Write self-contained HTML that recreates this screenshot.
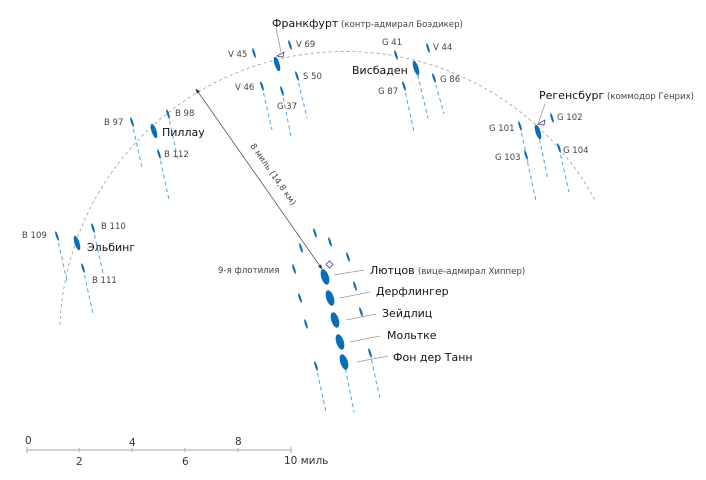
<!DOCTYPE html>
<html><head><meta charset="utf-8"><style>
html,body{margin:0;padding:0;background:#fff}
svg{display:block}
text{font-family:"DejaVu Sans","Liberation Sans",sans-serif;fill:#333}
.s{font-size:8.5px;fill:#444}
.p{font-size:8.6px;fill:#444}
.b{font-size:11px;fill:#111}
.w{stroke:#4aa8e8;stroke-width:1;stroke-dasharray:4,3;fill:none}
.sh{fill:#0a6db5}
</style></head><body>
<svg width="706" height="480" viewBox="0 0 706 480" xmlns="http://www.w3.org/2000/svg">
<defs>
<marker id="ah" viewBox="0 0 10 10" refX="9" refY="5" markerWidth="6" markerHeight="6" orient="auto-start-reverse"><path d="M0,1 L10,5 L0,9 z" fill="#333"/></marker>
</defs>
<path d="M60,325 A285,285 0 0 1 595,200" fill="none" stroke="#999" stroke-width="0.8" stroke-dasharray="3,3"/>

<g class="w">
<path d="M262,86 l10,44"/><path d="M282,91 l9,46"/><path d="M297,76 l10,42"/>
<path d="M416,68 l12,50"/><path d="M404,86 l10,46"/><path d="M434,78 l10,36"/>
<path d="M538,132 l10,48"/><path d="M526,155 l10,46"/><path d="M559,148 l10,44"/><path d="M520,126 l8,36"/>
<path d="M132,122 l10,46"/><path d="M168,114 l10,46"/><path d="M159,154 l10,46"/>
<path d="M57,236 l10,45"/><path d="M93,228 l10,45"/><path d="M83,268 l10,46"/>
<path d="M344,362 l10,50"/><path d="M316,366 l10,46"/><path d="M370,353 l10,46"/>
</g>

<g class="sh">
<ellipse cx="277" cy="64" rx="2.5" ry="7.5" transform="rotate(-18 277 64)"/>
<ellipse cx="416" cy="68" rx="2.5" ry="7.5" transform="rotate(-18 416 68)"/>
<ellipse cx="538" cy="132" rx="2.5" ry="7.5" transform="rotate(-18 538 132)"/>
<ellipse cx="154" cy="131" rx="2.5" ry="7.5" transform="rotate(-18 154 131)"/>
<ellipse cx="77" cy="243" rx="2.5" ry="7.5" transform="rotate(-18 77 243)"/>
<ellipse cx="325" cy="277" rx="3.8" ry="8" transform="rotate(-18 325 277)"/>
<ellipse cx="330" cy="298" rx="3.8" ry="8" transform="rotate(-18 330 298)"/>
<ellipse cx="335" cy="320" rx="3.8" ry="8" transform="rotate(-18 335 320)"/>
<ellipse cx="340" cy="342" rx="3.8" ry="8" transform="rotate(-18 340 342)"/>
<ellipse cx="344" cy="362" rx="3.8" ry="8" transform="rotate(-18 344 362)"/>
</g>
<g class="sh">
<ellipse cx="254" cy="53" rx="1.1" ry="5" transform="rotate(-18 254 53)"/>
<ellipse cx="290" cy="45" rx="1.1" ry="5" transform="rotate(-18 290 45)"/>
<ellipse cx="262" cy="86" rx="1.1" ry="5" transform="rotate(-18 262 86)"/>
<ellipse cx="297" cy="76" rx="1.1" ry="5" transform="rotate(-18 297 76)"/>
<ellipse cx="282" cy="91" rx="1.1" ry="5" transform="rotate(-18 282 91)"/>
<ellipse cx="396" cy="55" rx="1.1" ry="5" transform="rotate(-18 396 55)"/>
<ellipse cx="428" cy="48" rx="1.1" ry="5" transform="rotate(-18 428 48)"/>
<ellipse cx="404" cy="86" rx="1.1" ry="5" transform="rotate(-18 404 86)"/>
<ellipse cx="434" cy="78" rx="1.1" ry="5" transform="rotate(-18 434 78)"/>
<ellipse cx="520" cy="126" rx="1.1" ry="5" transform="rotate(-18 520 126)"/>
<ellipse cx="552" cy="118" rx="1.1" ry="5" transform="rotate(-18 552 118)"/>
<ellipse cx="526" cy="155" rx="1.1" ry="5" transform="rotate(-18 526 155)"/>
<ellipse cx="559" cy="148" rx="1.1" ry="5" transform="rotate(-18 559 148)"/>
<ellipse cx="132" cy="122" rx="1.1" ry="5" transform="rotate(-18 132 122)"/>
<ellipse cx="168" cy="114" rx="1.1" ry="5" transform="rotate(-18 168 114)"/>
<ellipse cx="159" cy="154" rx="1.1" ry="5" transform="rotate(-18 159 154)"/>
<ellipse cx="57" cy="236" rx="1.1" ry="5" transform="rotate(-18 57 236)"/>
<ellipse cx="93" cy="228" rx="1.1" ry="5" transform="rotate(-18 93 228)"/>
<ellipse cx="83" cy="268" rx="1.1" ry="5" transform="rotate(-18 83 268)"/>
<ellipse cx="315" cy="233" rx="1.1" ry="5" transform="rotate(-18 315 233)"/>
<ellipse cx="330" cy="242" rx="1.1" ry="5" transform="rotate(-18 330 242)"/>
<ellipse cx="348" cy="257" rx="1.1" ry="5" transform="rotate(-18 348 257)"/>
<ellipse cx="301" cy="248" rx="1.1" ry="5" transform="rotate(-18 301 248)"/>
<ellipse cx="294" cy="269" rx="1.1" ry="5" transform="rotate(-18 294 269)"/>
<ellipse cx="355" cy="286" rx="1.1" ry="5" transform="rotate(-18 355 286)"/>
<ellipse cx="300" cy="298" rx="1.1" ry="5" transform="rotate(-18 300 298)"/>
<ellipse cx="361" cy="312" rx="1.1" ry="5" transform="rotate(-18 361 312)"/>
<ellipse cx="306" cy="324" rx="1.1" ry="5" transform="rotate(-18 306 324)"/>
<ellipse cx="370" cy="353" rx="1.1" ry="5" transform="rotate(-18 370 353)"/>
<ellipse cx="316" cy="366" rx="1.1" ry="5" transform="rotate(-18 316 366)"/>
</g>

<path d="M277,56 l7,-4 l-1,5 z" fill="none" stroke="#4a3aa0" stroke-width="0.8"/>
<path d="M538,124 l7,-4 l-1,5 z" fill="none" stroke="#4a3aa0" stroke-width="0.8"/>
<rect x="327" y="262" width="5" height="5" fill="none" stroke="#4a3aa0" stroke-width="0.8" transform="rotate(45 329.5 264.5)"/>

<g stroke="#999" stroke-width="0.8" fill="none">
<path d="M281,52 L276,28"/><path d="M538,124 L545,104"/>
<path d="M334,275 L364,270"/><path d="M340,298 L370,292"/><path d="M346,320 L376,314"/>
<path d="M350,342 L380,336"/><path d="M357,362 L388,356"/>
</g>

<line x1="196" y1="89" x2="322" y2="269" stroke="#555" stroke-width="0.8" marker-start="url(#ah)" marker-end="url(#ah)"/>
<text class="s" transform="translate(250,146) rotate(55)" font-size="9.5">8 миль (14,8 км)</text>

<text x="272" y="27" class="b">Франкфурт</text><text x="341" y="27" class="p">(контр-адмирал Боэдикер)</text>
<text x="228" y="57" class="s">V 45</text><text x="296" y="47" class="s">V 69</text>
<text x="235" y="90" class="s">V 46</text><text x="303" y="79" class="s">S 50</text><text x="277" y="109" class="s">G 37</text>
<text x="382" y="45" class="s">G 41</text><text x="433" y="50" class="s">V 44</text>
<text x="352" y="74" class="b">Висбаден</text>
<text x="378" y="94" class="s">G 87</text><text x="440" y="82" class="s">G 86</text>
<text x="539" y="99" class="b">Регенсбург</text><text x="607" y="99" class="p">(коммодор Генрих)</text>
<text x="489" y="131" class="s">G 101</text><text x="557" y="120" class="s">G 102</text>
<text x="495" y="160" class="s">G 103</text><text x="563" y="153" class="s">G 104</text>
<text x="104" y="125" class="s">B 97</text><text x="175" y="116" class="s">B 98</text>
<text x="162" y="136" class="b">Пиллау</text><text x="164" y="157" class="s">B 112</text>
<text x="22" y="238" class="s">B 109</text><text x="101" y="229" class="s">B 110</text>
<text x="87" y="251" class="b">Эльбинг</text><text x="92" y="283" class="s">B 111</text>
<text x="218" y="273" class="p">9-я флотилия</text>
<text x="370" y="274" class="b">Лютцов</text><text x="418" y="274" class="p">(вице-адмирал Хиппер)</text>
<text x="376" y="295" class="b">Дерфлингер</text>
<text x="382" y="317" class="b">Зейдлиц</text>
<text x="387" y="339" class="b">Мольтке</text>
<text x="393" y="361" class="b">Фон дер Танн</text>

<g stroke="#aaa" stroke-width="1">
<line x1="27" y1="450" x2="291" y2="450"/>
<line x1="27" y1="447" x2="27" y2="453"/><line x1="79" y1="448" x2="79" y2="452"/>
<line x1="132" y1="448" x2="132" y2="452"/><line x1="185" y1="448" x2="185" y2="452"/>
<line x1="238" y1="448" x2="238" y2="452"/><line x1="291" y1="447" x2="291" y2="453"/>
</g>
<g font-size="10.5" fill="#222">
<text x="25" y="444">0</text><text x="129" y="446">4</text><text x="235" y="445">8</text>
<text x="76" y="465">2</text><text x="182" y="465">6</text><text x="284" y="464">10 миль</text>
</g>
</svg>
</body></html>
